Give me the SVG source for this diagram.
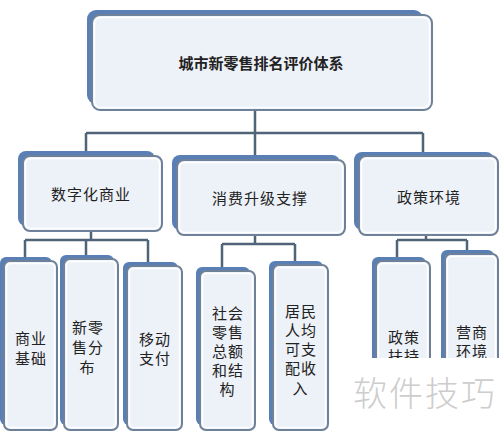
<svg xmlns="http://www.w3.org/2000/svg" width="500" height="432" viewBox="0 0 500 432">
<style>
.back{fill:#5a7fb4;}
.front{fill:#edf1f8;stroke:#6e8198;stroke-width:2;}
.inner{fill:none;stroke:#ffffff;stroke-width:1.5;}
.t{font-family:"Noto Sans CJK SC","Noto Sans",sans-serif;font-size:15px;fill:#222;text-anchor:middle;dominant-baseline:central;}
.title{font-weight:bold;}
.conn{fill:none;stroke:#4f6379;stroke-width:2.5;}
.wm{font-family:"Noto Sans CJK SC",sans-serif;font-size:34px;fill:#cdcdcd;text-anchor:middle;font-weight:300;}
</style>
<defs>
<clipPath id="cut"><rect x="0" y="0" width="500" height="358"/></clipPath>
</defs>
<rect width="500" height="432" fill="#ffffff"/>
<g id="connectors">
<path class="conn" d="M255 110V133M86 133H423M86 133V152M255 133V158M423 133V153"/>
<path class="conn" d="M91 231V240M25 240H148M25 240V258M86 240V256M148 240V263"/>
<path class="conn" d="M255 235V244M222 244H295M222 244V268M295 244V262"/>
<path class="conn" d="M426 235V240M397 240H467M397 240V258M467 240V251"/>
</g>
<g id="n0">
<rect class="back" x="87" y="10" width="336" height="94" rx="9"/>
<rect class="front" x="92" y="15" width="340" height="95" rx="8"/>
<rect class="inner" x="94.5" y="17.5" width="335" height="90" rx="6"/>
<text class="t title" x="261" y="62">城市新零售排名评价体系</text>
</g>
<g id="n1">
<rect class="back" x="18" y="151" width="137" height="75" rx="8"/>
<rect class="front" x="23" y="156" width="139" height="75" rx="7"/>
<rect class="inner" x="25.5" y="158.5" width="134" height="70" rx="5"/>
<text class="t" x="91" y="193" letter-spacing="1">数字化商业</text>
</g>
<g id="n2">
<rect class="back" x="172" y="155" width="168" height="75" rx="8"/>
<rect class="front" x="177" y="160" width="168" height="75" rx="7"/>
<rect class="inner" x="179.5" y="162.5" width="163" height="70" rx="5"/>
<text class="t" x="260" y="197" letter-spacing="1">消费升级支撑</text>
</g>
<g id="n3">
<rect class="back" x="354" y="152" width="140" height="78" rx="8"/>
<rect class="front" x="359" y="156" width="139" height="79" rx="7"/>
<rect class="inner" x="361.5" y="158.5" width="134" height="74" rx="5"/>
<text class="t" x="429" y="196" letter-spacing="1">政策环境</text>
</g>
<g id="n4">
<rect class="back" x="0" y="257" width="52" height="168" rx="6"/>
<rect class="front" x="4" y="261" width="53" height="169" rx="6"/>
<rect class="inner" x="6.5" y="263.5" width="48" height="164" rx="4"/>
<text class="t" x="31" y="337" letter-spacing="1">商业</text>
<text class="t" x="31" y="357" letter-spacing="1">基础</text>
</g>
<g id="n5">
<rect class="back" x="60" y="255" width="54" height="170" rx="6"/>
<rect class="front" x="64" y="259" width="54" height="171" rx="6"/>
<rect class="inner" x="66.5" y="261.5" width="49" height="166" rx="4"/>
<text class="t" x="88" y="326" letter-spacing="1">新零</text>
<text class="t" x="88" y="346" letter-spacing="1">售分</text>
<text class="t" x="87" y="366">布</text>
</g>
<g id="n6">
<rect class="back" x="123" y="262" width="55" height="163" rx="6"/>
<rect class="front" x="127" y="266" width="55" height="164" rx="6"/>
<rect class="inner" x="129.5" y="268.5" width="50" height="159" rx="4"/>
<text class="t" x="155" y="338" letter-spacing="1">移动</text>
<text class="t" x="155" y="357" letter-spacing="1">支付</text>
</g>
<g id="n7">
<rect class="back" x="196" y="267" width="54" height="158" rx="6"/>
<rect class="front" x="200" y="271" width="55" height="159" rx="6"/>
<rect class="inner" x="202.5" y="273.5" width="50" height="154" rx="4"/>
<text class="t" x="228" y="312" letter-spacing="1">社会</text>
<text class="t" x="228" y="331" letter-spacing="1">零售</text>
<text class="t" x="228" y="350" letter-spacing="1">总额</text>
<text class="t" x="228" y="369" letter-spacing="1">和结</text>
<text class="t" x="227" y="388">构</text>
</g>
<g id="n8">
<rect class="back" x="269" y="261" width="54" height="164" rx="6"/>
<rect class="front" x="273" y="265" width="55" height="165" rx="6"/>
<rect class="inner" x="275.5" y="267.5" width="50" height="160" rx="4"/>
<text class="t" x="301" y="310" letter-spacing="1">居民</text>
<text class="t" x="301" y="329" letter-spacing="1">人均</text>
<text class="t" x="301" y="348" letter-spacing="1">可支</text>
<text class="t" x="301" y="367" letter-spacing="1">配收</text>
<text class="t" x="300" y="387">入</text>
</g>
<g id="n9" clip-path="url(#cut)">
<rect class="back" x="372" y="257" width="54" height="168" rx="6"/>
<rect class="front" x="376" y="261" width="54" height="169" rx="6"/>
<rect class="inner" x="378.5" y="263.5" width="49" height="164" rx="4"/>
<text class="t" x="404" y="336" letter-spacing="1">政策</text>
<text class="t" x="404" y="355" letter-spacing="1">扶持</text>
</g>
<g id="n10" clip-path="url(#cut)">
<rect class="back" x="441" y="250" width="53" height="175" rx="6"/>
<rect class="front" x="445" y="254" width="53" height="176" rx="6"/>
<rect class="inner" x="447.5" y="256.5" width="48" height="171" rx="4"/>
<text class="t" x="472" y="331" letter-spacing="1">营商</text>
<text class="t" x="472" y="350" letter-spacing="1">环境</text>
</g>
<text class="wm" x="425" y="406" letter-spacing="2">软件技巧</text>
</svg>
